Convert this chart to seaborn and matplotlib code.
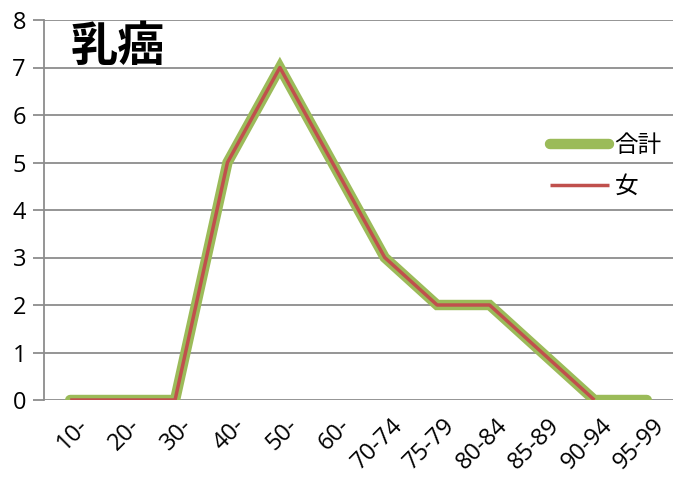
import numpy as np
import pandas as pd
import matplotlib
matplotlib.use("Agg")
import matplotlib.pyplot as plt
import matplotlib.transforms as mtransforms
import seaborn as sns

categories = ["10-", "20-", "30-", "40-", "50-", "60-", "70-74", "75-79", "80-84", "85-89", "90-94", "95-99"]
total = [0, 0, 0, 5, 7, 5, 3, 2, 2, 1, 0, 0]
female = [0, 0, 0, 5, 7, 5, 3, 2, 2, 1, 0, np.nan]
title = "乳癌"
series_names = ["合計", "女"]

sns.set_theme(style="white")
plt.rcParams['font.family'] = ['Open Sans', 'Noto Sans CJK JP', 'DejaVu Sans']
plt.rcParams['text.color'] = 'black'
plt.rcParams['xtick.color'] = 'black'
plt.rcParams['ytick.color'] = 'black'

df = pd.DataFrame({"cat": categories, "total": total, "female": female, "x": np.arange(len(categories))})

fig = plt.figure(figsize=(6.73, 4.79), dpi=100)
ax = fig.add_axes([44/673, 1-400/479, 1-44/673, 380/479])

sns.lineplot(data=df, x="x", y="total", ax=ax, color="#9BBB59", linewidth=7.5,
             label=series_names[0], solid_capstyle="round", solid_joinstyle="miter")
sns.lineplot(data=df, x="x", y="female", ax=ax, color="#C0504D", linewidth=2.5,
             label=series_names[1], solid_capstyle="butt")

ax.set_xlim(-0.5, len(categories) - 0.5)
ax.set_ylim(0, 8)
ax.set_yticks(range(0, 9))
ax.yaxis.grid(True, color="#8C8C8C", linewidth=1.3)
ax.set_axisbelow(True)
for s in ["top", "right", "bottom"]:
    ax.spines[s].set_visible(False)
ax.spines["left"].set_color("#8C8C8C")
ax.spines["left"].set_linewidth(1.3)

ax.set_xticks(np.arange(len(categories)))
ax.set_xticklabels(categories, rotation=45, ha="right", rotation_mode="anchor", fontsize=17)
ax.tick_params(axis="x", length=0, pad=10)
offset = mtransforms.ScaledTranslation(6/100, 0, fig.dpi_scale_trans)
for lbl in ax.get_xticklabels():
    lbl.set_transform(lbl.get_transform() + offset)
ax.set_xticks(np.arange(len(categories)) + 0.5, minor=True)
ax.tick_params(axis="x", which="minor", length=8, color="#8C8C8C", width=1.3)
ax.tick_params(axis="y", length=8, color="#8C8C8C", width=1.3, labelsize=17, pad=5, left=True)
ax.set_xlabel("")
ax.set_ylabel("")

ax.text(0.042, 0.93, title, transform=ax.transAxes, fontsize=34, fontweight="bold",
        family=["Noto Sans CJK JP"], va="center", ha="left")

leg = ax.legend(loc="upper left", bbox_to_anchor=(0.77, 0.755), frameon=False,
                handlelength=2.5, handletextpad=0.25, labelspacing=0.75,
                prop={"family": ["Noto Sans CJK JP"], "size": 17})

fig.savefig("out.png", dpi=100)
